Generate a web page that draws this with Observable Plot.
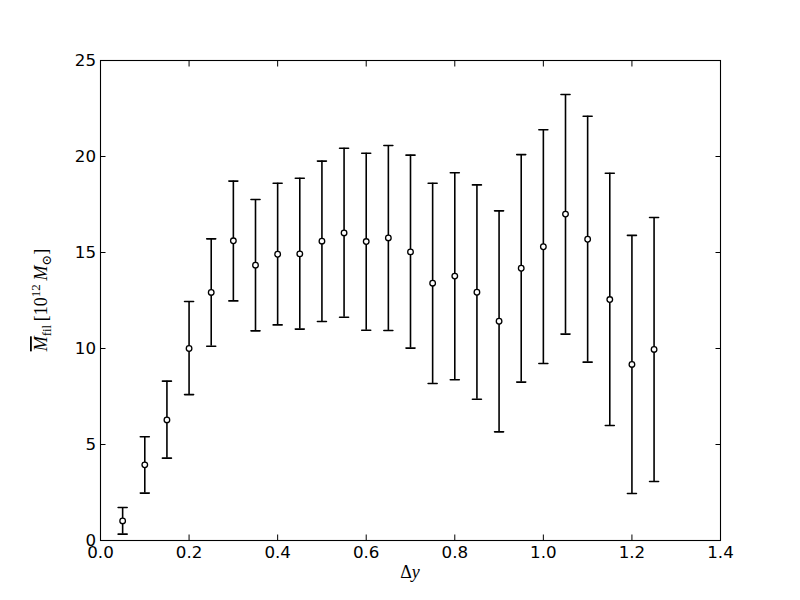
<!DOCTYPE html>
<html><head><meta charset="utf-8">
<script src="https://cdn.jsdelivr.net/npm/d3@7"></script>
<script src="https://cdn.jsdelivr.net/npm/@observablehq/plot@0.6"></script>
<style>body{margin:0;background:#fff} #chart{width:800px;height:600px}</style>
</head><body><div id="chart"></div>
<script>
const xs = [0.05,0.10,0.15,0.20,0.25,0.30,0.35,0.40,0.45,0.50,0.55,0.60,0.65,0.70,0.75,0.80,0.85,0.90,0.95,1.00,1.05,1.10,1.15,1.20,1.25];
const means = [1.02,3.94,6.28,10.0,12.92,15.61,14.34,14.91,14.93,15.59,16.02,15.57,15.76,15.03,13.40,13.77,12.93,11.42,14.18,15.30,17.0,15.69,12.55,9.17,9.95];
const upper = [1.72,5.40,8.30,12.45,15.71,18.72,17.76,18.61,18.87,19.76,20.43,20.17,20.57,20.07,18.61,19.15,18.52,17.17,20.10,21.39,23.23,22.10,19.13,15.89,16.82];
const lower = [0.33,2.47,4.29,7.60,10.12,12.48,10.92,11.23,11.01,11.41,11.63,10.95,10.94,10.02,8.18,8.37,7.36,5.66,8.25,9.22,10.75,9.29,5.99,2.45,3.07];
const xTicks = [0,0.2,0.4,0.6,0.8,1.0,1.2,1.4];
const yTicks = [0,5,10,15,20,25];

const data = xs.map((x,i)=>({x, m: means[i], lo: lower[i], hi: upper[i]}));
const cap = {draw(ctx, l){ ctx.moveTo(-l/2, 0); ctx.lineTo(l/2, 0); }};

const plot = Plot.plot({
  width: 800, height: 600,
  marginLeft: 100, marginRight: 80, marginTop: 60, marginBottom: 60,
  style: {fontFamily: "DejaVu Sans", fontSize: "16.7px", background: "#fff", color: "#000", overflow: "visible"},
  x: {domain: [0, 1.4]},
  y: {domain: [0, 25]},
  marks: [
    Plot.axisX(xTicks, {anchor: "bottom", tickSize: -5.5, tickPadding: 11.5, tickFormat: d => d.toFixed(1), label: null, stroke: "#000"}),
    Plot.axisX(xTicks, {anchor: "top", tickSize: -5.5, tickFormat: () => "", label: null, stroke: "#000"}),
    Plot.axisY(yTicks, {anchor: "left", tickSize: -5.5, tickPadding: 10, tickFormat: d => String(d), label: null, stroke: "#000"}),
    Plot.axisY(yTicks, {anchor: "right", tickSize: -5.5, tickFormat: () => "", label: null, stroke: "#000"}),
    Plot.ruleX(data, {x: "x", y1: "lo", y2: "hi", stroke: "#000", strokeWidth: 1.6}),
    Plot.vector(data, {x: "x", y: "hi", length: 9, shape: cap, anchor: "start", stroke: "#000", strokeWidth: 1.6}),
    Plot.vector(data, {x: "x", y: "lo", length: 9, shape: cap, anchor: "start", stroke: "#000", strokeWidth: 1.6}),
    Plot.dot(data, {x: "x", y: "m", r: 2.8, fill: "#fff", stroke: "#000", strokeWidth: 1.3}),
    Plot.frame({stroke: "#000", strokeWidth: 1.1})
  ]
});
document.getElementById("chart").appendChild(plot);

const svg = d3.select(plot);
const serif = "'Liberation Serif', 'DejaVu Serif', serif";
// x label
const xl = svg.append("text").attr("x", 410).attr("y", 578).attr("text-anchor", "middle")
  .attr("font-family", serif).attr("font-size", 18).attr("fill", "#000");
xl.append("tspan").text("Δ");
xl.append("tspan").attr("font-style", "italic").text("y");

// y label
const yl = svg.append("text").attr("transform", "translate(47,300) rotate(-90)").attr("text-anchor", "middle")
  .attr("font-family", serif).attr("font-size", 18).attr("fill", "#000");
yl.append("tspan").attr("font-style", "italic").style("text-decoration", "overline").text("M");
yl.append("tspan").attr("dy", 4).attr("font-size", 13).text("fil");
yl.append("tspan").attr("dy", -4).text("\u2009[10");
yl.append("tspan").attr("dy", -7).attr("font-size", 13).text("12");
yl.append("tspan").attr("dy", 7).text("\u2009");
yl.append("tspan").attr("font-style", "italic").text("M");
yl.append("tspan").attr("dy", 4).attr("font-size", 13).text("⊙");
yl.append("tspan").attr("dy", -4).text("]");
</script>
</body></html>
